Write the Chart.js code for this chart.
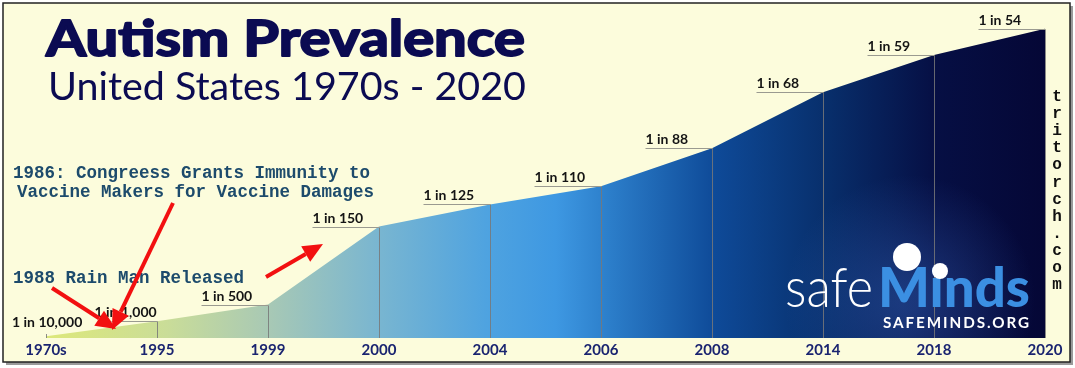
<!DOCTYPE html>
<html>
<head>
<meta charset="utf-8">
<script src="https://cdn.jsdelivr.net/npm/chart.js@4.4.1/dist/chart.umd.min.js"></script>
<style>
  html, body { margin: 0; padding: 0; background: #fff; }
  #wrap { width: 1075px; height: 368px; position: relative; }
</style>
</head>
<body>
<div id="wrap"><canvas id="prevalenceChart"></canvas></div>
<script>
// Chart data
const years = ['1970s', '1995', '1999', '2000', '2004', '2006', '2008', '2014', '2018', '2020'];
const casesPer10k = [1, 10, 20, 66.7, 80, 90.9, 113.6, 147.1, 169.5, 185.2];
const rateLabels = ['1 in 10,000', '1 in 1,000', '1 in 500', '1 in 150', '1 in 125', '1 in 110', '1 in 88', '1 in 68', '1 in 59', '1 in 54'];

const navy = '#0b0b52';

// gradient across the chart area, yellow-green -> blue -> near black
function areaGradient(context) {
    const chart = context.chart;
    const area = chart.chartArea;
    if (!area) return '#3d98e2';
    const g = chart.ctx.createLinearGradient(area.left, 0, area.right, 0);
    g.addColorStop(0.00, '#dde87a');
    g.addColorStop(0.12, '#cadd98');
    g.addColorStop(0.22, '#a9c9b4');
    g.addColorStop(0.33, '#7ab6d0');
    g.addColorStop(0.44, '#4fa3e0');
    g.addColorStop(0.51, '#3e98e2');
    g.addColorStop(0.56, '#2d80cc');
    g.addColorStop(0.67, '#0e4a98');
    g.addColorStop(0.78, '#082f6c');
    g.addColorStop(0.89, '#060f44');
    g.addColorStop(1.00, '#050736');
    return g;
}

function arrow(ctx, x1, y1, x2, y2) {
    const ang = Math.atan2(y2 - y1, x2 - x1);
    const head = 20, half = 9;
    const bx = x2 - head * Math.cos(ang), by = y2 - head * Math.sin(ang);
    ctx.strokeStyle = '#f21010';
    ctx.fillStyle = '#f21010';
    ctx.lineWidth = 4;
    ctx.beginPath();
    ctx.moveTo(x1, y1);
    ctx.lineTo(bx, by);
    ctx.stroke();
    ctx.beginPath();
    ctx.moveTo(x2, y2);
    ctx.lineTo(bx + half * Math.sin(ang), by - half * Math.cos(ang));
    ctx.lineTo(bx - half * Math.sin(ang), by + half * Math.cos(ang));
    ctx.closePath();
    ctx.fill();
}

// text stretched horizontally to a given width
function wideText(ctx, text, x, y, width, heavy) {
    const w = ctx.measureText(text).width;
    ctx.save();
    ctx.translate(x, y);
    ctx.scale(width / w, 1);
    ctx.fillText(text, 0, 0);
    if (heavy) {
        ctx.lineWidth = heavy;
        ctx.lineJoin = 'round';
        ctx.strokeStyle = ctx.fillStyle;
        ctx.strokeText(text, 0, 0);
    }
    ctx.restore();
}

const posterPlugin = {
    id: 'poster',
    beforeDraw(chart) {
        const ctx = chart.ctx;
        ctx.save();
        ctx.fillStyle = '#ffffff';
        ctx.fillRect(0, 0, chart.width, chart.height);
        // shadow + panel
        ctx.fillStyle = '#9a9a9a';
        ctx.fillRect(6, 6, 1067, 359);
        ctx.fillStyle = '#fcfcdc';
        ctx.fillRect(3, 3, 1067, 359);
        ctx.strokeStyle = '#222';
        ctx.lineWidth = 1.5;
        ctx.strokeRect(3, 3, 1067, 359);

        // titles
        ctx.fillStyle = navy;
        ctx.textBaseline = 'alphabetic';
        ctx.font = 'bold 50px Lato, sans-serif';
        wideText(ctx, 'Autism Prevalence', 46, 56, 479, 2);
        ctx.font = '400 38px Lato, sans-serif';
        wideText(ctx, 'United States 1970s - 2020', 48, 100, 478, 0);
        ctx.restore();
    },
    afterDatasetsDraw(chart) {
        const ctx = chart.ctx;
        const x = chart.scales.x, y = chart.scales.y;
        const area = chart.chartArea;
        const base = y.getPixelForValue(0);
        ctx.save();

        // glow behind logo
        ctx.beginPath();
        ctx.rect(area.left, area.top, area.right - area.left, base - area.top);
        ctx.clip();
        const rg = ctx.createRadialGradient(910, 300, 10, 910, 300, 125);
        rg.addColorStop(0, 'rgba(60,110,200,0.38)');
        rg.addColorStop(1, 'rgba(60,110,200,0)');
        ctx.fillStyle = rg;
        ctx.beginPath();
        ctx.moveTo(x.getPixelForValue(6), y.getPixelForValue(casesPer10k[6]));
        for (let i = 7; i < years.length; i++) ctx.lineTo(x.getPixelForValue(i), y.getPixelForValue(casesPer10k[i]));
        ctx.lineTo(area.right, base);
        ctx.lineTo(x.getPixelForValue(6), base);
        ctx.closePath();
        ctx.fill();
        ctx.restore();
        ctx.save();

        // drop lines and rate labels
        casesPer10k.forEach((v, i) => {
            const px = Math.round(x.getPixelForValue(i)) + 0.5;
            const py = Math.round(y.getPixelForValue(v)) + 0.5;
            ctx.strokeStyle = 'rgba(120,120,120,0.85)';
            ctx.lineWidth = 1;
            ctx.beginPath();
            ctx.moveTo(px, i === 0 ? base - 4 : py);
            ctx.lineTo(px, base);
            ctx.stroke();

            let tx = px - 67, lineStart = px - 67, ty = py - 5;
            if (i === 0) { tx = 12; lineStart = null; ty = base - 11; }
            if (i === 1) { tx = px - 63; lineStart = px - 46; }
            if (lineStart !== null) {
                ctx.strokeStyle = '#9a9a90';
                ctx.beginPath();
                ctx.moveTo(lineStart, py);
                ctx.lineTo(px, py);
                ctx.stroke();
            }
            ctx.fillStyle = '#141414';
            ctx.font = 'bold 14px Lato, sans-serif';
            ctx.textAlign = 'left';
            ctx.textBaseline = 'alphabetic';
            ctx.fillText(rateLabels[i], tx, ty);
        });

        // annotations
        ctx.fillStyle = '#1d4b6c';
        ctx.font = 'bold 17.5px "Liberation Mono", monospace';
        ctx.fillText('1986: Congreess Grants Immunity to', 13, 178);
        ctx.fillText('Vaccine Makers for Vaccine Damages', 17, 197);
        ctx.fillText('1988 Rain Man Released', 13, 283);

        arrow(ctx, 173, 203, 112, 330);
        arrow(ctx, 52, 288, 116, 329);
        arrow(ctx, 266, 277, 323, 244);

        // vertical site name
        ctx.fillStyle = '#111';
        ctx.font = 'bold 16px "Liberation Mono", monospace';
        ctx.textAlign = 'center';
        ctx.textBaseline = 'middle';
        'tritorch.com'.split('').forEach((c, k) => ctx.fillText(c, 1057, 97 + k * 17.1));

        // logo
        ctx.textAlign = 'left';
        ctx.textBaseline = 'alphabetic';
        ctx.fillStyle = '#ffffff';
        ctx.font = '300 56px Lato, sans-serif';
        ctx.fillText('safe', 785, 307, 88);
        ctx.fillStyle = '#3b8fe2';
        ctx.font = '900 56px Lato, sans-serif';
        ctx.fillText('Minds', 878, 307, 152);
        ctx.fillStyle = '#ffffff';
        ctx.beginPath();
        ctx.arc(907, 257, 14, 0, Math.PI * 2);
        ctx.fill();
        ctx.beginPath();
        ctx.arc(940, 271, 8, 0, Math.PI * 2);
        ctx.fill();
        ctx.font = 'bold 16px Lato, sans-serif';
        ctx.letterSpacing = '2px';
        ctx.fillText('SAFEMINDS.ORG', 883, 328, 148);
        ctx.restore();
    }
};

const ctx = document.getElementById('prevalenceChart').getContext('2d');
const prevalenceChart = new Chart(ctx, {
    type: 'line',
    data: {
        labels: years,
        datasets: [{
            label: 'Autism prevalence (per 10,000)',
            data: casesPer10k,
            fill: 'origin',
            backgroundColor: areaGradient,
            borderWidth: 0,
            pointRadius: 0,
            tension: 0
        }]
    },
    options: {
        responsive: true,
        maintainAspectRatio: false,
        animation: false,
        layout: { padding: { left: 46, right: 30, top: 4, bottom: 0 } },
        plugins: {
            legend: { display: false },
            tooltip: { enabled: false }
        },
        scales: {
            x: {
                grid: { display: false, drawTicks: false },
                border: { display: false },
                ticks: {
                    color: '#1a2470',
                    font: { family: 'Lato, sans-serif', size: 15, weight: 'bold' },
                    padding: 3,
                    maxRotation: 0,
                    autoSkip: false
                },
                afterFit(scale) { scale.height = 30; }
            },
            y: {
                display: false,
                min: 0,
                max: 200
            }
        }
    },
    plugins: [posterPlugin]
});
</script>
</body>
</html>
